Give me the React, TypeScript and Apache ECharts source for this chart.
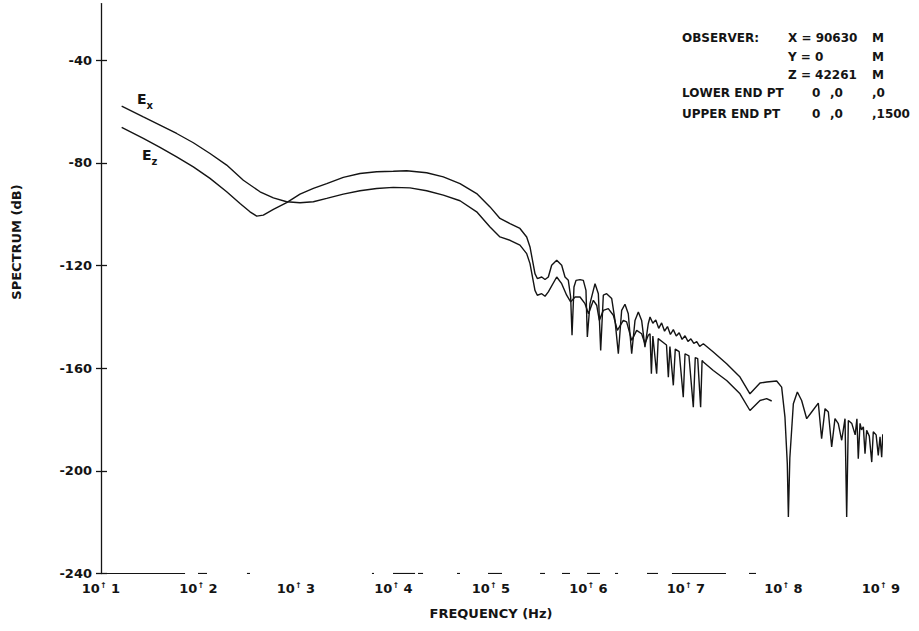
import { useEffect, useRef } from 'react';
import * as echarts from 'echarts';

const FONT = '"DejaVu Sans", "Liberation Sans", sans-serif';
const INK = '#141414';

// Frequency positions are kept as decade exponents (log10 of Hz); levels in dB.
const exDecades = [
  1.212, 1.434, 1.605, 1.776, 1.947, 2.118, 2.289, 2.46, 2.631, 2.768, 2.904, 3.041, 3.178,
  3.315, 3.485, 3.656, 3.827, 3.998, 4.169, 4.34, 4.511, 4.682, 4.853, 4.99, 5.092, 5.195,
  5.297, 5.366, 5.4, 5.451, 5.475, 5.52, 5.554, 5.588, 5.674, 5.725, 5.776, 5.817, 5.862,
  5.913, 5.964, 6.0, 6.05, 6.084, 6.111, 6.152, 6.203, 6.255, 6.296, 6.357, 6.391, 6.443,
  6.494, 6.545, 6.579, 6.613, 6.631, 6.645, 6.66, 6.699, 6.715, 6.76, 6.8, 6.819, 6.835,
  6.87, 6.89, 6.93, 6.972, 6.99, 7.03, 7.075, 7.095, 7.12, 7.15, 7.165, 7.178, 7.28, 7.417,
  7.554, 7.656, 7.759, 7.827, 7.879,
];
const exLevels = [
  -57.9, -62.1, -65.3, -68.6, -72.2, -76.4, -80.9, -86.8, -91.3, -93.7, -95.2, -95.6, -95.2,
  -93.9, -92.2, -90.9, -90.0, -89.6, -89.8, -90.9, -92.6, -94.8, -99.1, -105.0, -108.9, -110.2,
  -112.1, -115.4, -119.3, -129.7, -131.6, -131.0, -132.0, -130.3, -124.5, -127.1, -131.6, -134.2, -132.3,
  -132.3, -134.9, -138.8, -133.6, -135.5, -141.4, -137.5, -136.8, -139.4, -145.3, -141.4, -142.0, -149.2,
  -145.3, -146.6, -150.5, -147.2, -146.6, -162.2, -147.5, -162.2, -148.5, -149.8, -151.0, -163.5, -151.6,
  -166.7, -152.6, -153.6, -171.3, -154.4, -155.2, -175.2, -155.9, -156.3, -175.2, -157.0, -157.6, -160.9, -164.8,
  -170.0, -176.5, -172.6, -171.9, -172.8,
];

const ezDecades = [
  1.212, 1.434, 1.605, 1.776, 1.947, 2.118, 2.289, 2.426, 2.528, 2.597, 2.665, 2.768, 2.904,
  3.041, 3.178, 3.315, 3.485, 3.656, 3.827, 3.998, 4.135, 4.34, 4.511, 4.682, 4.853, 4.99,
  5.092, 5.195, 5.297, 5.366, 5.4, 5.451, 5.475, 5.52, 5.554, 5.588, 5.622, 5.674, 5.725,
  5.759, 5.793, 5.817, 5.831, 5.851, 5.872, 5.913, 5.947, 5.974, 5.988, 6.015, 6.067, 6.101,
  6.125, 6.152, 6.186, 6.238, 6.272, 6.306, 6.34, 6.374, 6.408, 6.443, 6.477, 6.511, 6.545,
  6.579, 6.613, 6.631, 6.66, 6.69, 6.72, 6.75, 6.78, 6.81, 6.84, 6.87, 6.9, 6.93, 6.96, 6.99,
  7.02, 7.05, 7.08, 7.11, 7.14, 7.178, 7.28, 7.417, 7.554, 7.656, 7.759, 7.827, 7.93, 7.981,
  8.015, 8.039, 8.05, 8.065, 8.101, 8.142, 8.186, 8.238, 8.289, 8.357, 8.391, 8.426, 8.46,
  8.494, 8.528, 8.562, 8.597, 8.631, 8.648, 8.665, 8.701, 8.735, 8.753, 8.767, 8.785, 8.8,
  8.819, 8.836, 8.853, 8.88, 8.905, 8.921, 8.95, 8.972, 8.99, 9.007, 9.018,
];
const ezLevels = [
  -66.2, -70.5, -74.0, -77.7, -81.6, -86.1, -91.3, -95.9, -99.1, -100.8, -100.4, -98.2, -95.5,
  -92.2, -90.0, -88.1, -85.7, -84.2, -83.5, -83.3, -83.1, -83.9, -85.5, -88.1, -92.0, -97.2,
  -101.7, -103.7, -105.6, -108.9, -112.8, -123.2, -125.1, -124.5, -125.5, -124.5, -119.9, -118.0, -119.9,
  -124.5, -125.8, -132.3, -147.2, -128.4, -125.8, -125.5, -125.8, -129.7, -147.9, -134.9, -127.1, -131.0,
  -153.1, -131.6, -131.0, -132.9, -141.4, -154.4, -137.5, -135.1, -138.8, -154.4, -141.4, -138.1, -141.4,
  -151.8, -142.7, -140.1, -142.5, -141.2, -144.5, -142.4, -145.6, -143.8, -146.9, -145.0, -147.5, -146.2, -148.8, -147.4,
  -149.6, -148.6, -150.4, -149.7, -151.5, -150.5, -153.7, -158.3, -163.5, -170.0, -165.8, -165.4, -165.0, -167.4,
  -179.1, -197.2, -218.0, -195.0, -173.9, -169.3, -172.6, -179.7, -177.1, -173.6, -187.5, -175.8, -177.1,
  -190.7, -179.7, -181.6, -188.1, -179.7, -218.0, -180.4, -181.6, -186.0, -179.7, -195.3, -181.5, -184.0,
  -182.9, -193.3, -184.2, -186.5, -196.6, -184.8, -186.0, -194.0, -186.8, -194.7, -185.8,
];

const levelTicks = [-240, -200, -160, -120, -80, -40];
const decadeTicks = [1, 2, 3, 4, 5, 6, 7, 8, 9];

// The frequency axis line is only partly inked: [from, to] pieces in decades.
const baselinePieces = [
  [1.0, 1.862], [1.995, 2.087], [2.497, 2.528], [3.779, 3.8], [3.995, 4.221], [4.251, 4.303],
  [4.651, 4.682], [4.969, 5.113], [5.503, 5.554], [5.728, 5.81], [5.985, 6.118], [6.272, 6.303],
  [6.6, 6.713], [6.856, 7.41], [7.646, 7.718],
];

const observerRows = [
  ['OBSERVER:', 'X = 90630', 'M'],
  ['', 'Y = 0', 'M'],
  ['', 'Z = 42261', 'M'],
];
const endPointRows = [
  ['LOWER END PT', '0', ',0', ',0'],
  ['UPPER END PT', '0', ',0', ',1500'],
];

const hz = (d: number) => Math.pow(10, d);

export default function App() {
  const ref = useRef<HTMLDivElement>(null);

  useEffect(() => {
    if (!ref.current) return;
    const chart = echarts.init(ref.current, null, { renderer: 'svg' });

    const textStyle = (size: number) => ({
      fontFamily: FONT,
      fontWeight: 'bold' as const,
      fontSize: size,
      fill: INK,
    });

    const graphic: any[] = [];
    const rowY = [37.5, 56.5, 75, 93, 114];
    observerRows.forEach((row, i) => {
      const xs = [682, 788, 872];
      row.forEach((t, j) => {
        if (!t) return;
        graphic.push({
          type: 'text', x: xs[j], y: rowY[i],
          style: { ...textStyle(12), text: t, align: 'left', verticalAlign: 'middle' },
        });
      });
    });
    endPointRows.forEach((row, i) => {
      const xs = [682, 812, 830, 872];
      row.forEach((t, j) => {
        graphic.push({
          type: 'text', x: xs[j], y: rowY[3 + i],
          style: { ...textStyle(12), text: t, align: 'left', verticalAlign: 'middle' },
        });
      });
    });

    // curve labels with subscripts
    const curveLabels = [
      { main: 'E', sub: 'x', x: 137, y: 98.5 },
      { main: 'E', sub: 'z', x: 142, y: 154.5 },
    ];
    curveLabels.forEach((l) => {
      graphic.push({
        type: 'text', x: l.x, y: l.y,
        style: { ...textStyle(14), text: l.main, align: 'left', verticalAlign: 'middle' },
      });
      graphic.push({
        type: 'text', x: l.x + 9.5, y: l.y + 7,
        style: { ...textStyle(10), text: l.sub, align: 'left', verticalAlign: 'middle' },
      });
    });

    graphic.push({
      type: 'text', x: 16, y: 242, rotation: Math.PI / 2,
      style: { ...textStyle(13), text: 'SPECTRUM (dB)', align: 'center', verticalAlign: 'middle' },
    });
    graphic.push({
      type: 'text', x: 491, y: 613,
      style: { ...textStyle(13), text: 'FREQUENCY (Hz)', align: 'center', verticalAlign: 'middle' },
    });

    const curveStyle = { color: INK, width: 1.4 };

    chart.setOption({
      animation: false,
      backgroundColor: '#ffffff',
      grid: { left: 101, right: 38, top: 3.6, bottom: 57.5 },
      xAxis: {
        type: 'log',
        logBase: 10,
        min: hz(1),
        max: hz(9),
        axisLine: { show: false },
        axisTick: { show: false },
        splitLine: { show: false },
        axisLabel: {
          customValues: decadeTicks.map(hz),
          margin: 8,
          color: INK,
          fontFamily: FONT,
          fontWeight: 'bold',
          fontSize: 13,
          formatter: (v: number) => `{n|10}{u|↑}{n| ${Math.round(Math.log10(v))}}`,
          rich: {
            n: { fontFamily: FONT, fontWeight: 'bold', fontSize: 13, color: INK },
            u: { fontFamily: FONT, fontWeight: 'bold', fontSize: 8, color: INK, verticalAlign: 'top' },
          },
        },
      },
      yAxis: [
        {
          type: 'value',
          min: -240,
          max: -18,
          axisLine: { show: true, lineStyle: { color: INK, width: 1.3 } },
          axisTick: { show: true, length: 5, customValues: levelTicks, lineStyle: { color: INK, width: 1.3 } },
          splitLine: { show: false },
          axisLabel: {
            customValues: levelTicks,
            margin: 9,
            color: INK,
            fontFamily: FONT,
            fontWeight: 'bold',
            fontSize: 13,
            formatter: (v: number) => String(v),
          },
        },
        {
          type: 'value',
          position: 'left',
          min: -240,
          max: -18,
          axisLine: { show: false },
          axisLabel: { show: false },
          splitLine: { show: false },
          axisTick: { show: true, inside: true, length: 6, customValues: levelTicks, lineStyle: { color: INK, width: 1.3 } },
        },
      ],
      series: [
        {
          type: 'line',
          name: 'Ex',
          data: exDecades.map((d, i) => [hz(d), exLevels[i]]),
          symbol: 'none',
          lineStyle: curveStyle,
          silent: true,
        },
        {
          type: 'line',
          name: 'Ez',
          data: ezDecades.map((d, i) => [hz(d), ezLevels[i]]),
          symbol: 'none',
          lineStyle: curveStyle,
          silent: true,
        },
        {
          type: 'lines',
          coordinateSystem: 'cartesian2d',
          polyline: false,
          silent: true,
          lineStyle: { color: INK, width: 1.2, opacity: 1 },
          data: baselinePieces.map(([a, b]) => ({ coords: [[hz(a), -240], [hz(b), -240]] })),
        },
      ],
      graphic,
    });

    return () => chart.dispose();
  }, []);

  return (
    <div
      ref={ref}
      style={{ position: 'absolute', left: 0, top: 0, width: 919, height: 631, background: '#fff' }}
    />
  );
}
